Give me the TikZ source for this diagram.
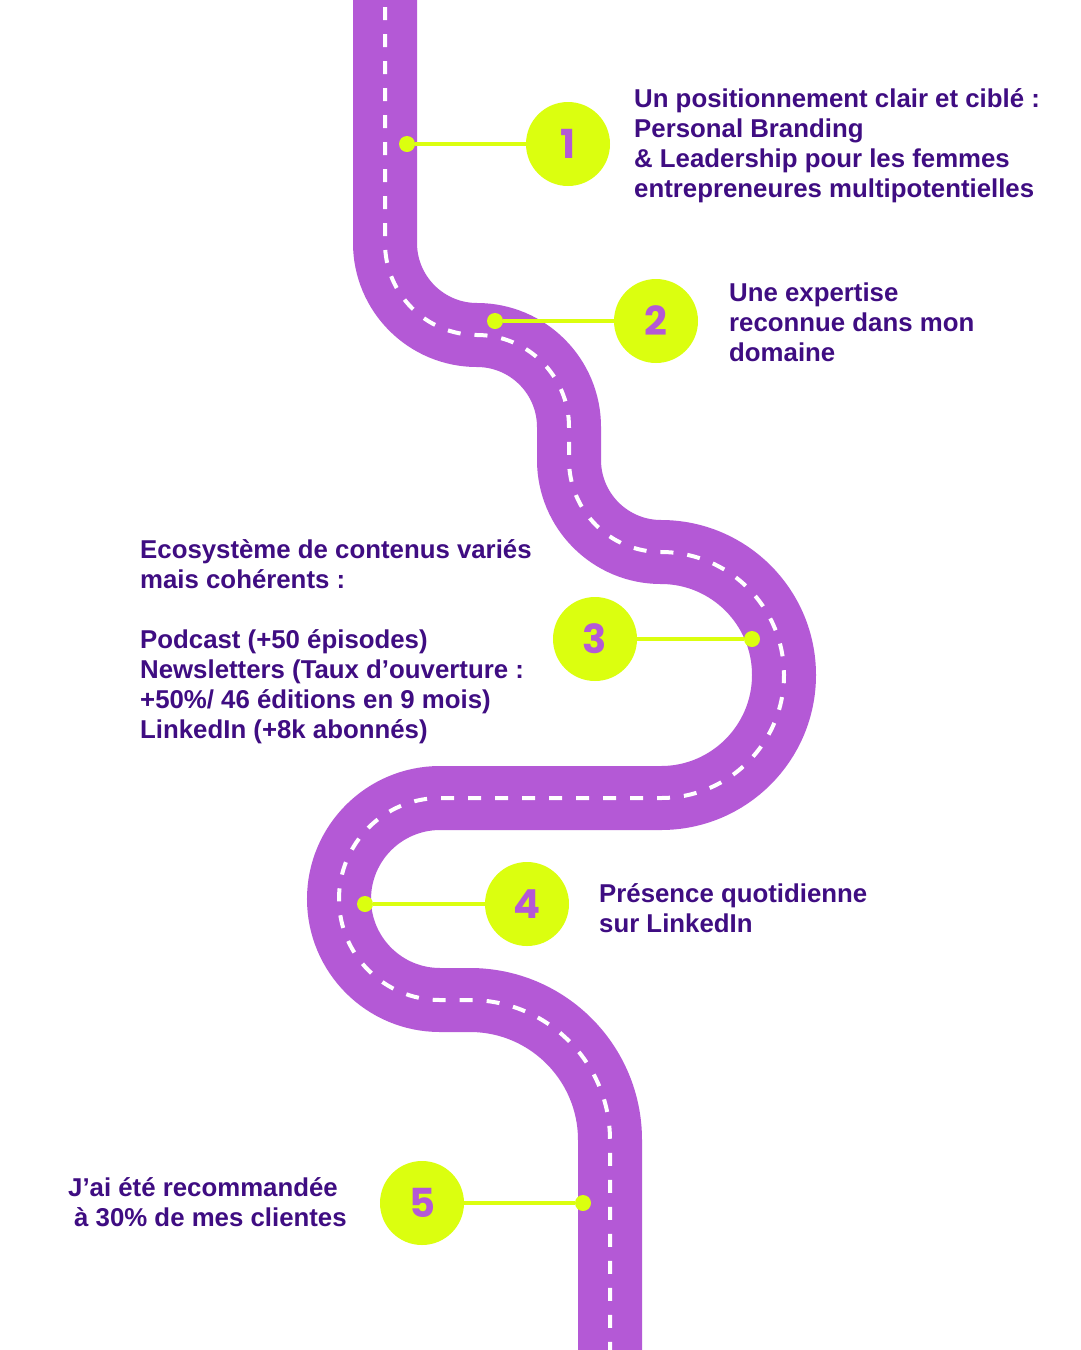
\documentclass[tikz,border=0pt]{standalone}
\usepackage{fontspec}
\setmainfont{Liberation Sans}
\newfontfamily\numfont{Poppins}
\definecolor{roadpurple}{HTML}{B459D6}
\definecolor{lime}{HTML}{DBFF0F}
\definecolor{textpurple}{HTML}{3F0D82}
\newcommand\roadpath{(385,-20) -- (385,243)
  arc[start angle=180, end angle=90, radius=92]
  arc[start angle=-90, end angle=0, radius=92]
  -- (569,460)
  arc[start angle=180, end angle=90, radius=92]
  arc[start angle=-90, end angle=90, radius=123]
  -- (440,798)
  arc[start angle=270, end angle=90, radius=101]
  -- (470,1000)
  arc[start angle=-90, end angle=0, radius=140]
  -- (610,1380)}
\begin{document}
\begin{tikzpicture}[x=1pt,y=-1pt,
  roadband/.style={draw=roadpurple, line width=64pt},
  roaddash/.style={draw=white, line width=4pt, dash pattern=on 13pt off 14pt},
  dotmark/.style={circle, fill=lime, minimum size=16pt, inner sep=0pt},
  numcircle/.style={circle, fill=lime, minimum size=84pt, inner sep=0pt,
    text=roadpurple, font=\numfont\bfseries\fontsize{40}{40}\selectfont},
  conn/.style={draw=lime, line width=4pt},
  label/.style={anchor=base west, align=left, inner sep=0pt, text=textpurple,
    font=\bfseries\fontsize{25.8}{30}\selectfont}]
\useasboundingbox (0,0) rectangle (1080,1350);
\fill[white] (0,0) rectangle (1080,1350);
\begin{scope}
\clip (0,0) rectangle (1080,1350);
\draw[roadband] \roadpath;
\draw[roaddash] \roadpath;
\end{scope}
% milestones
\node[dotmark] (d1) at (407,144) {};
\node[numcircle] (n1) at (568,144) {1};
\draw[conn] (d1) -- (n1);
\node[dotmark] (d2) at (495,321) {};
\node[numcircle] (n2) at (656,321) {2};
\draw[conn] (d2) -- (n2);
\node[dotmark] (d3) at (752,639) {};
\node[numcircle] (n3) at (595,639) {3};
\draw[conn] (d3) -- (n3);
\node[dotmark] (d4) at (365,904) {};
\node[numcircle] (n4) at (527,904) {4};
\draw[conn] (d4) -- (n4);
\node[dotmark] (d5) at (583,1203) {};
\node[numcircle] (n5) at (422,1203) {5};
\draw[conn] (d5) -- (n5);
% texts (anchored at the baseline of the last line)
\node[label] (t1) at (634,197) {Un positionnement clair et ciblé :\\Personal Branding\\\& Leadership pour les femmes\\entrepreneures multipotentielles};
\node[label] (t2) at (729,361) {Une expertise\\reconnue dans mon\\domaine};
\node[label] (t3) at (140,738) {Ecosystème de contenus variés\\mais cohérents :\\[30pt]Podcast (+50 épisodes)\\Newsletters (Taux d’ouverture :\\+50\%/ 46 éditions en 9 mois)\\LinkedIn (+8k abonnés)};
\node[label] (t4) at (599,932) {Présence quotidienne\\sur LinkedIn};
\node[label] (t5) at (68,1226) {J’ai été recommandée\\\hspace*{6pt}à 30\% de mes clientes};
\end{tikzpicture}
\end{document}
